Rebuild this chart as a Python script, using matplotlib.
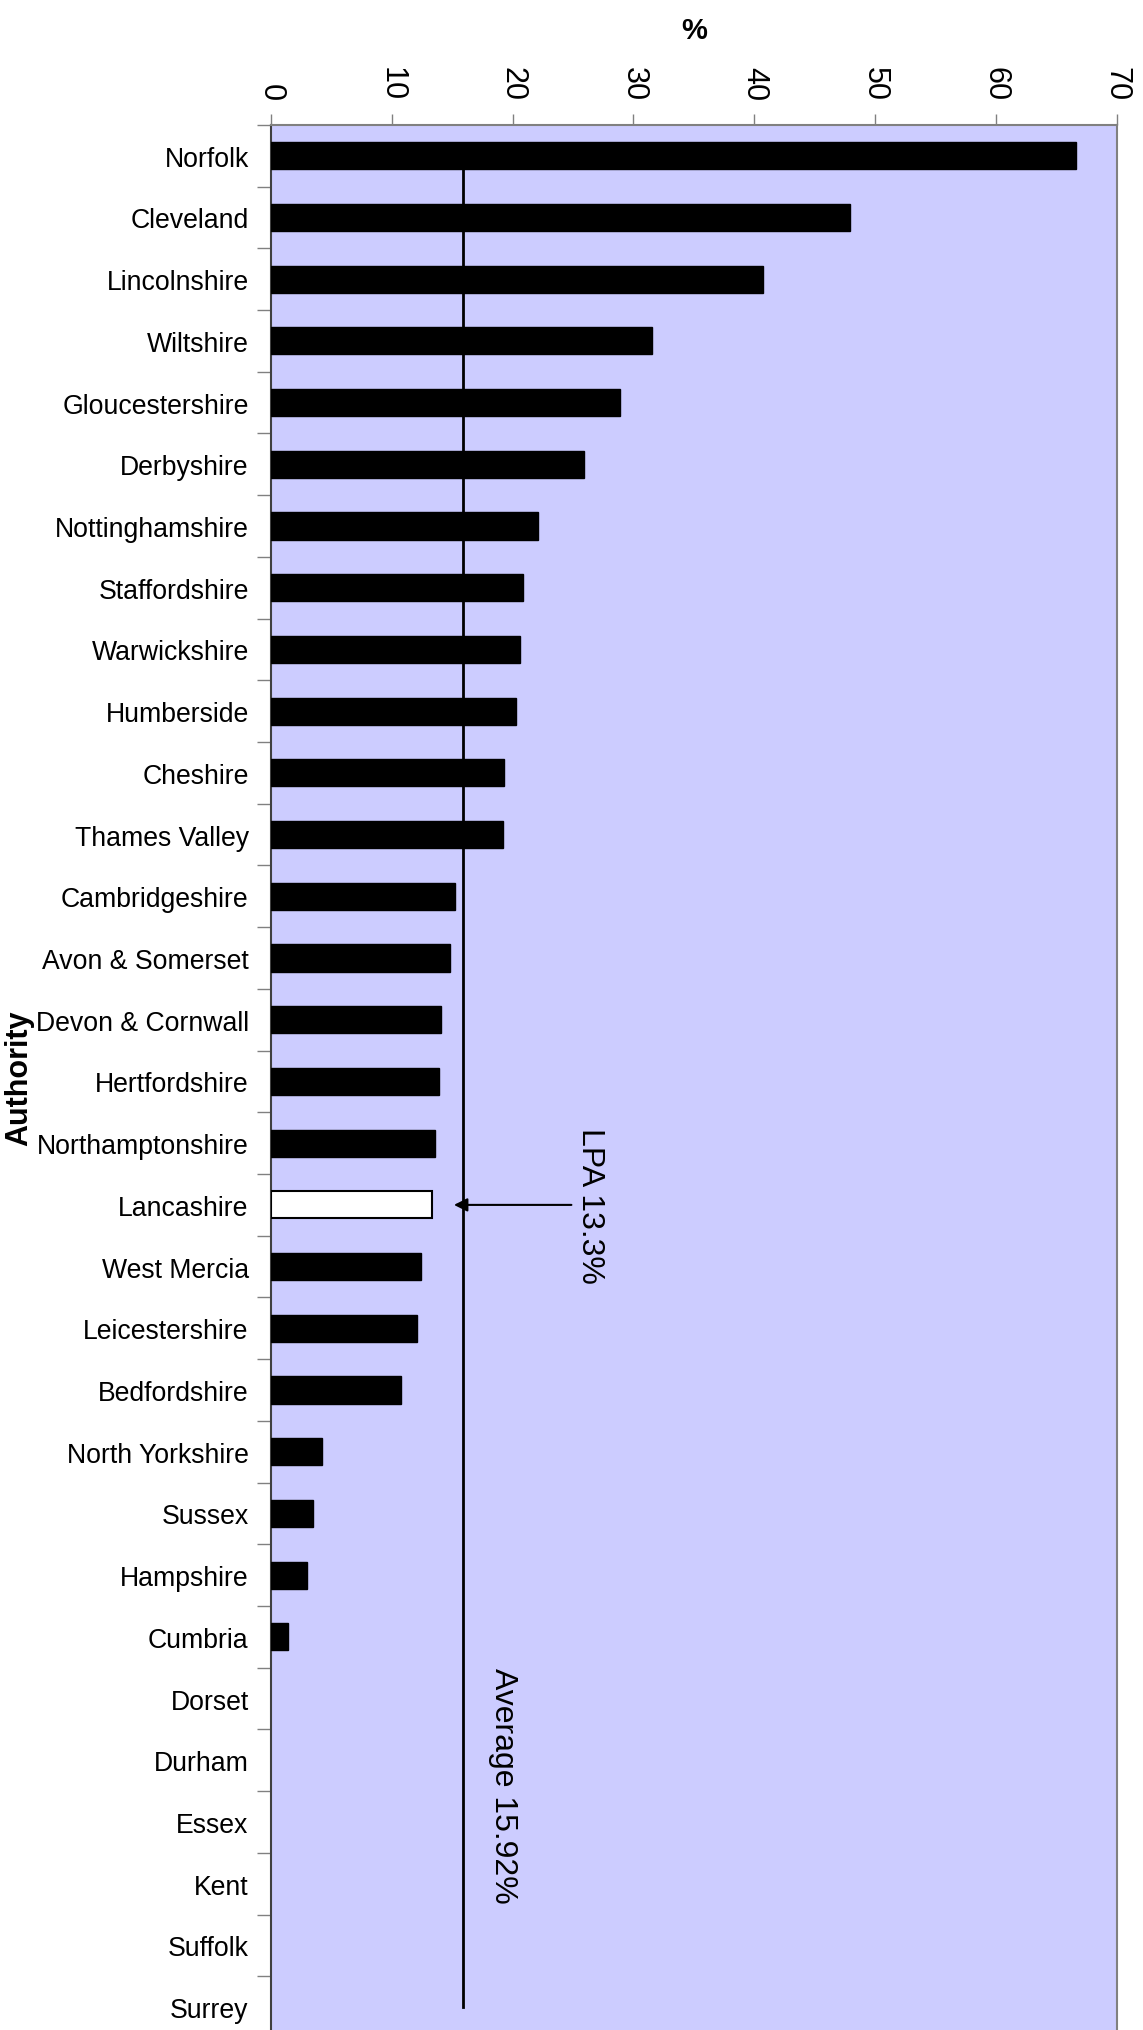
import matplotlib.pyplot as plt
from matplotlib.ticker import MultipleLocator, FixedLocator
import numpy as np

plt.rcParams['font.family'] = ['Liberation Sans', 'DejaVu Sans']

# dữ liệu
authorities = ["Norfolk", "Cleveland", "Lincolnshire", "Wiltshire", "Gloucestershire",
               "Derbyshire", "Nottinghamshire", "Staffordshire", "Warwickshire", "Humberside",
               "Cheshire", "Thames Valley", "Cambridgeshire", "Avon & Somerset", "Devon & Cornwall",
               "Hertfordshire", "Northamptonshire", "Lancashire", "West Mercia", "Leicestershire",
               "Bedfordshire", "North Yorkshire", "Sussex", "Hampshire", "Cumbria",
               "Dorset", "Durham", "Essex", "Kent", "Suffolk", "Surrey"]
values = [66.6, 47.9, 40.7, 31.5, 28.9,
          25.9, 22.1, 20.9, 20.6, 20.3,
          19.3, 19.2, 15.2, 14.8, 14.1,
          13.9, 13.6, 13.3, 12.4, 12.1,
          10.8, 4.2, 3.5, 3.0, 1.4,
          0, 0, 0, 0, 0, 0]
highlight = "Lancashire"
average = 15.92
lpa = 13.3

fig = plt.figure(figsize=(11.43, 20.31), dpi=100)
ax = fig.add_axes([0.237, 0.0, 0.740, 0.938])
ax.set_facecolor('#CCCCFF')

n = len(authorities)
y = np.arange(n)
li = authorities.index(highlight)

# vẽ cột (bỏ viền cho cột bằng 0)
for i, (a, v) in enumerate(zip(authorities, values)):
    if v <= 0:
        continue
    if a == highlight:
        ax.barh(i, v, height=0.44, color='white', edgecolor='black', linewidth=1.5, zorder=3)
    else:
        ax.barh(i, v, height=0.44, color='black', edgecolor='black', linewidth=1, zorder=3)

# đường trung bình
ax.plot([average, average], [0.22, n - 1], color='black', linewidth=2, zorder=4)
ax.text(average + 3.3, 26.4, f"Average {average:.2f}%", rotation=-90,
        ha='center', va='center', fontsize=23)

# mũi tên LPA
ax.annotate("", xy=(average - 1.0, li), xytext=(25.1, li),
            arrowprops=dict(arrowstyle='-|>', color='black', lw=1.5, mutation_scale=20),
            zorder=5)
ax.text(26.4, li, f"LPA {lpa}%", rotation=-90, ha='center', va='center', fontsize=23)

ax.set_xlim(0, 70)
ax.set_ylim(30.37, -0.5)

ax.xaxis.tick_top()
ax.xaxis.set_label_position('top')
ax.xaxis.set_major_locator(MultipleLocator(10))
ax.tick_params(axis='x', direction='out', length=8, width=1, color='#808080',
               labelsize=22, pad=10)
for lab in ax.get_xticklabels():
    lab.set_rotation(-90)
    lab.set_va('bottom')
ax.set_xlabel("%", fontsize=21, fontweight='bold', labelpad=20)

ax.set_yticks(y)
ax.set_yticklabels(authorities)
ax.yaxis.set_minor_locator(FixedLocator(np.arange(-0.5, n, 1)))
ax.tick_params(axis='y', which='major', length=0, labelsize=19.2, pad=16)
ax.tick_params(axis='y', which='minor', length=10, width=1, color='#808080')
ax.set_ylabel("Authority", fontsize=22, fontweight='bold', labelpad=1)

for s in ['top', 'right']:
    ax.spines[s].set_color('#808080')
    ax.spines[s].set_linewidth(1.5)
ax.spines['left'].set_color('#404040')
ax.spines['left'].set_linewidth(1.5)
ax.spines['bottom'].set_visible(False)

fig.savefig("out.png", dpi=100)
